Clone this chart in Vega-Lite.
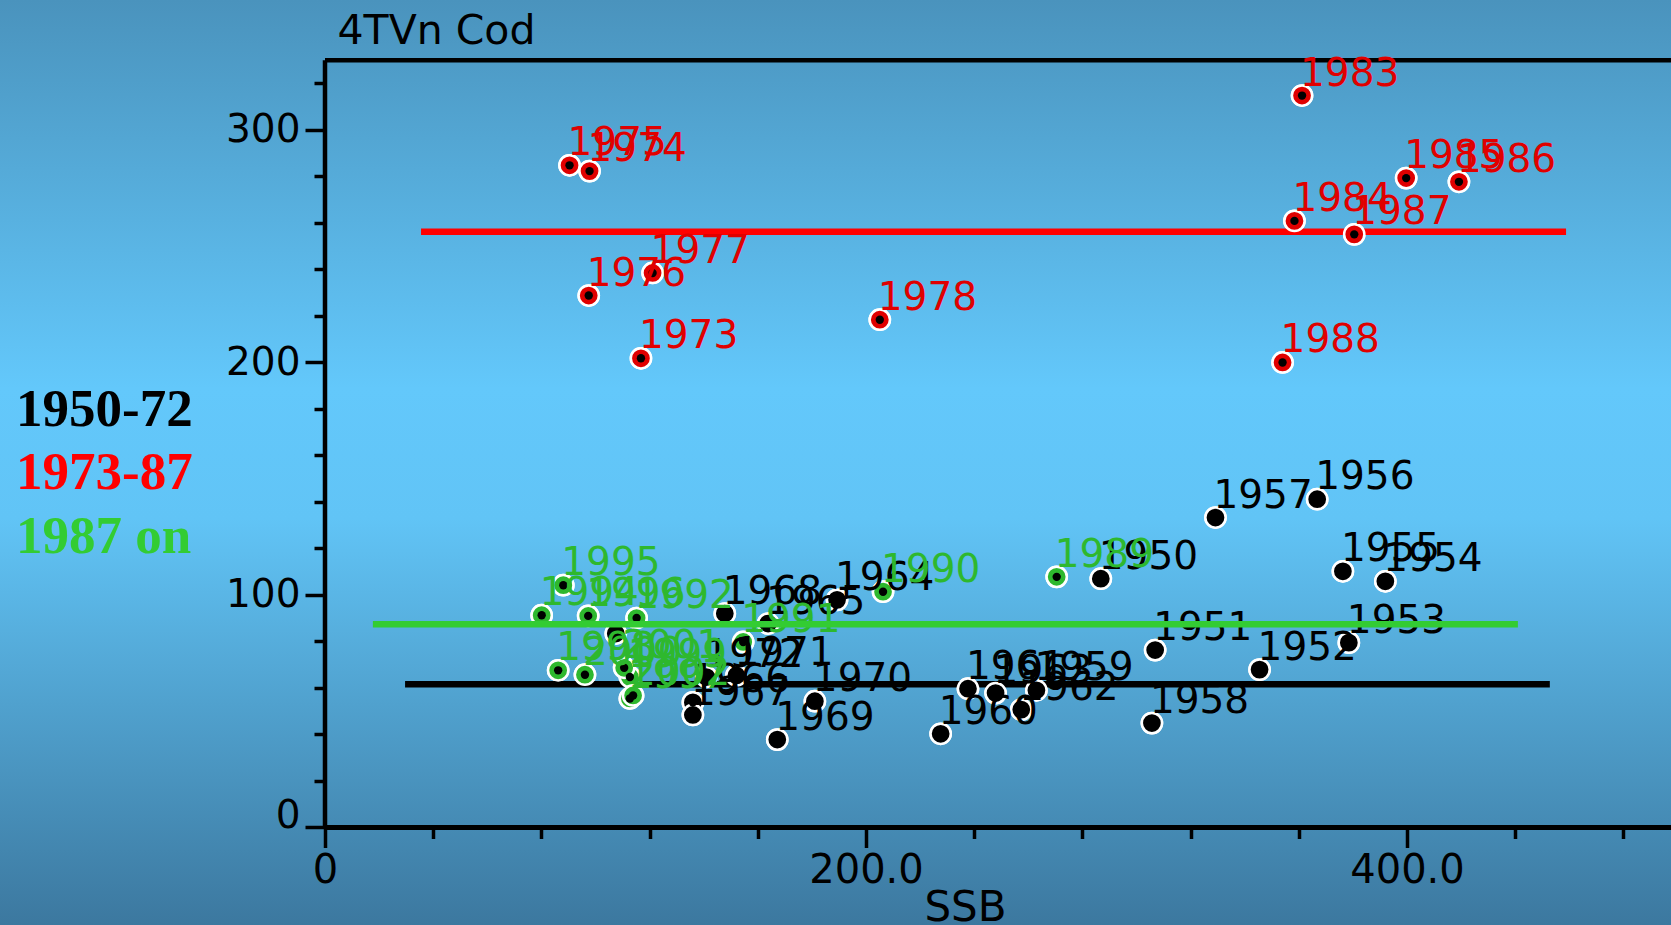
{
  "$schema": "https://vega.github.io/schema/vega-lite/v6.json",
  "width": 1671,
  "height": 925,
  "autosize": {"type": "none"},
  "padding": 0,
  "background": "#55aad8",
  "config": {
    "font": "DejaVu Sans",
    "view": {
      "stroke": null,
      "fill": {
        "gradient": "linear", "x1": 0, "y1": 0, "x2": 0, "y2": 1,
        "stops": [
          {"offset": 0, "color": "#4a93bd"},
          {"offset": 0.42, "color": "#63c8fb"},
          {"offset": 0.56, "color": "#61c4f6"},
          {"offset": 1, "color": "#3c789f"}
        ]
      }
    }
  },
  "datasets": {
    "points": [
      {"year": "1950", "period": "1950-72", "ssb": 286.8, "rec": 107.0},
      {"year": "1951", "period": "1950-72", "ssb": 306.9, "rec": 76.3},
      {"year": "1952", "period": "1950-72", "ssb": 345.5, "rec": 67.9},
      {"year": "1953", "period": "1950-72", "ssb": 378.5, "rec": 79.5},
      {"year": "1954", "period": "1950-72", "ssb": 392.0, "rec": 105.9},
      {"year": "1955", "period": "1950-72", "ssb": 376.3, "rec": 110.2},
      {"year": "1956", "period": "1950-72", "ssb": 366.8, "rec": 141.2},
      {"year": "1957", "period": "1950-72", "ssb": 329.2, "rec": 133.3},
      {"year": "1958", "period": "1950-72", "ssb": 305.7, "rec": 44.9},
      {"year": "1959", "period": "1950-72", "ssb": 263.0, "rec": 59.0},
      {"year": "1960", "period": "1950-72", "ssb": 227.6, "rec": 40.3},
      {"year": "1961", "period": "1950-72", "ssb": 237.7, "rec": 59.7},
      {"year": "1962", "period": "1950-72", "ssb": 257.4, "rec": 50.7},
      {"year": "1963", "period": "1950-72", "ssb": 247.9, "rec": 57.8},
      {"year": "1964", "period": "1950-72", "ssb": 189.3, "rec": 97.9},
      {"year": "1965", "period": "1950-72", "ssb": 163.8, "rec": 87.7},
      {"year": "1966", "period": "1950-72", "ssb": 136.0, "rec": 53.8},
      {"year": "1967", "period": "1950-72", "ssb": 136.0, "rec": 48.4},
      {"year": "1968", "period": "1950-72", "ssb": 147.8, "rec": 92.0},
      {"year": "1969", "period": "1950-72", "ssb": 167.2, "rec": 37.8},
      {"year": "1970", "period": "1950-72", "ssb": 181.1, "rec": 54.3},
      {"year": "1971", "period": "1950-72", "ssb": 152.1, "rec": 65.4},
      {"year": "1972", "period": "1950-72", "ssb": 141.0, "rec": 64.7},
      {"year": "", "period": "1950-72", "ssb": 107.5, "rec": 83.4},
      {"year": "1973", "period": "1973-87", "ssb": 116.8, "rec": 201.8},
      {"year": "1974", "period": "1973-87", "ssb": 97.8, "rec": 282.3},
      {"year": "1975", "period": "1973-87", "ssb": 90.4, "rec": 284.8},
      {"year": "1976", "period": "1973-87", "ssb": 97.5, "rec": 228.8},
      {"year": "1977", "period": "1973-87", "ssb": 121.1, "rec": 238.5},
      {"year": "1978", "period": "1973-87", "ssb": 205.1, "rec": 218.4},
      {"year": "1983", "period": "1973-87", "ssb": 361.2, "rec": 314.8},
      {"year": "1984", "period": "1973-87", "ssb": 358.4, "rec": 260.9},
      {"year": "1985", "period": "1973-87", "ssb": 399.7, "rec": 279.3},
      {"year": "1986", "period": "1973-87", "ssb": 419.2, "rec": 277.7},
      {"year": "1987", "period": "1973-87", "ssb": 380.5, "rec": 255.1},
      {"year": "1988", "period": "1973-87", "ssb": 354.0, "rec": 200.0},
      {"year": "1989", "period": "1987 on", "ssb": 270.5, "rec": 107.8},
      {"year": "1990", "period": "1987 on", "ssb": 206.3, "rec": 101.4},
      {"year": "1991", "period": "1987 on", "ssb": 154.6, "rec": 79.8},
      {"year": "1992", "period": "1987 on", "ssb": 115.2, "rec": 90.1},
      {"year": "1994", "period": "1987 on", "ssb": 80.1, "rec": 91.3},
      {"year": "1995", "period": "1987 on", "ssb": 88.1, "rec": 104.2},
      {"year": "1996", "period": "1987 on", "ssb": 97.3, "rec": 91.0},
      {"year": "1997", "period": "1987 on", "ssb": 112.7, "rec": 55.5},
      {"year": "1998", "period": "1987 on", "ssb": 86.2, "rec": 67.6},
      {"year": "1999", "period": "1987 on", "ssb": 112.7, "rec": 64.7},
      {"year": "2000", "period": "1987 on", "ssb": 96.1, "rec": 65.7},
      {"year": "2001", "period": "1987 on", "ssb": 110.6, "rec": 68.7},
      {"year": "2002", "period": "1987 on", "ssb": 113.9, "rec": 56.8}
    ],
    "means": [
      {"period": "1950-72", "from": 29.6, "to": 452.8, "rec": 61.6},
      {"period": "1973-87", "from": 35.5, "to": 458.8, "rec": 256.2},
      {"period": "1987 on", "from": 17.7, "to": 441.0, "rec": 87.4}
    ]
  },
  "layer": [
    {
      "data": {"name": "points"},
      "mark": {"type": "circle", "size": 410, "opacity": 1, "stroke": "white", "strokeWidth": 2.5},
      "encoding": {
        "x": {
          "field": "ssb", "type": "quantitative",
          "scale": {"domain": [-120.15, 497.6], "nice": false, "zero": false},
          "axis": {
            "orient": "bottom", "offset": -97.5,
            "values": [0, 40, 80, 120, 160, 200, 240, 280, 320, 360, 400, 440, 480],
            "domain": false, "grid": false,
            "tickColor": "black", "tickWidth": 3.5,
            "tickSize": {"condition": {"test": "datum.value % 200 === 0", "value": 20}, "value": 11},
            "labelExpr": "datum.value === 0 ? '0' : (datum.value % 200 === 0 ? format(datum.value, '.1f') : '')",
            "labelFont": "DejaVu Sans", "labelFontSize": 40, "labelColor": "black",
            "labelPadding": 3, "labelOverlap": false, "labelFlush": false, "labelBound": false,
            "title": "SSB", "titleFont": "DejaVu Sans", "titleFontSize": 42, "titleFontWeight": "normal",
            "titleColor": "black", "titleX": 965, "titleY": 93, "titleAlign": "center", "titleBaseline": "alphabetic"
          }
        },
        "y": {
          "field": "rec", "type": "quantitative",
          "scale": {"domain": [-41.94, 355.9], "nice": false, "zero": false},
          "axis": {
            "orient": "left", "offset": -325,
            "values": [0, 20, 40, 60, 80, 100, 120, 140, 160, 180, 200, 220, 240, 260, 280, 300, 320],
            "domain": false, "grid": false,
            "tickColor": "black", "tickWidth": 3.5,
            "tickSize": {"condition": {"test": "datum.value % 100 === 0", "value": 20}, "value": 11},
            "labelExpr": "datum.value % 100 === 0 ? format(datum.value, 'd') : ''",
            "labelFont": "DejaVu Sans", "labelFontSize": 39, "labelColor": "black",
            "labelPadding": 5, "labelOverlap": false, "labelFlush": false, "labelBound": false,
            "labelOffset": {"condition": {"test": "datum.value === 0", "value": -12}, "value": 0},
            "title": "4TVn Cod", "titleFont": "DejaVu Sans", "titleFontSize": 41, "titleFontWeight": "normal",
            "titleColor": "black", "titleAngle": 0, "titleX": 12, "titleY": 43, "titleAlign": "left", "titleBaseline": "alphabetic"
          }
        },
        "color": {
          "field": "period", "type": "nominal",
          "scale": {"domain": ["1950-72", "1973-87", "1987 on"], "range": ["#000000", "#e00000", "#2eb82e"]},
          "legend": {
            "orient": "none", "legendX": -37, "legendY": 383, "title": null,
            "symbolSize": 0, "symbolOpacity": 0, "symbolStrokeWidth": 0,
            "labelFont": "Liberation Serif", "labelFontWeight": "bold", "labelFontSize": 53,
            "labelOffset": 0, "rowPadding": 9.5, "labelLimit": 400,
            "labelColor": {"expr": "datum.label === '1973-87' ? '#ff0000' : (datum.label === '1987 on' ? '#33cc33' : '#000000')"}
          }
        }
      }
    },
    {
      "data": {"values": [{}]},
      "mark": {"type": "rule", "color": "black", "strokeWidth": 4.5},
      "encoding": {
        "x": {"datum": 0, "type": "quantitative"},
        "y": {"datum": 0, "type": "quantitative"},
        "y2": {"datum": 330}
      }
    },
    {
      "data": {"values": [{}]},
      "mark": {"type": "rule", "color": "black", "strokeWidth": 4.5},
      "encoding": {
        "x": {"datum": 0, "type": "quantitative"},
        "x2": {"datum": 500},
        "y": {"datum": 330, "type": "quantitative"}
      }
    },
    {
      "data": {"values": [{}]},
      "mark": {"type": "rule", "color": "black", "strokeWidth": 5},
      "encoding": {
        "x": {"datum": 0, "type": "quantitative"},
        "x2": {"datum": 500},
        "y": {"datum": 0, "type": "quantitative"}
      }
    },
    {
      "data": {"name": "means"},
      "transform": [{"filter": "datum.period !== '1987 on'"}],
      "mark": {"type": "rule", "strokeWidth": 6.5},
      "encoding": {
        "x": {"field": "from", "type": "quantitative"},
        "x2": {"field": "to"},
        "y": {"field": "rec", "type": "quantitative"},
        "color": {"condition": {"test": "datum.period === '1973-87'", "value": "#ff0000"}, "value": "#000000"}
      }
    },
    {
      "data": {"name": "points"},
      "mark": {"type": "circle", "size": 410, "opacity": 1, "stroke": "white", "strokeWidth": 2.5},
      "encoding": {
        "x": {"field": "ssb", "type": "quantitative"},
        "y": {"field": "rec", "type": "quantitative"},
        "color": {"field": "period", "type": "nominal"}
      }
    },
    {
      "data": {"name": "points"},
      "mark": {"type": "circle", "size": 70, "opacity": 1, "color": "black"},
      "encoding": {
        "x": {"field": "ssb", "type": "quantitative"},
        "y": {"field": "rec", "type": "quantitative"}
      }
    },
    {
      "data": {"name": "points"},
      "mark": {"type": "text", "align": "left", "baseline": "alphabetic", "dx": -2, "dy": -10, "fontSize": 39, "font": "DejaVu Sans"},
      "encoding": {
        "x": {"field": "ssb", "type": "quantitative"},
        "y": {"field": "rec", "type": "quantitative"},
        "text": {"field": "year", "type": "nominal"},
        "color": {"field": "period", "type": "nominal"}
      }
    },
    {
      "data": {"name": "means"},
      "transform": [{"filter": "datum.period === '1987 on'"}],
      "mark": {"type": "rule", "strokeWidth": 6.5, "color": "#33cc33"},
      "encoding": {
        "x": {"field": "from", "type": "quantitative"},
        "x2": {"field": "to"},
        "y": {"field": "rec", "type": "quantitative"}
      }
    }
  ]
}
